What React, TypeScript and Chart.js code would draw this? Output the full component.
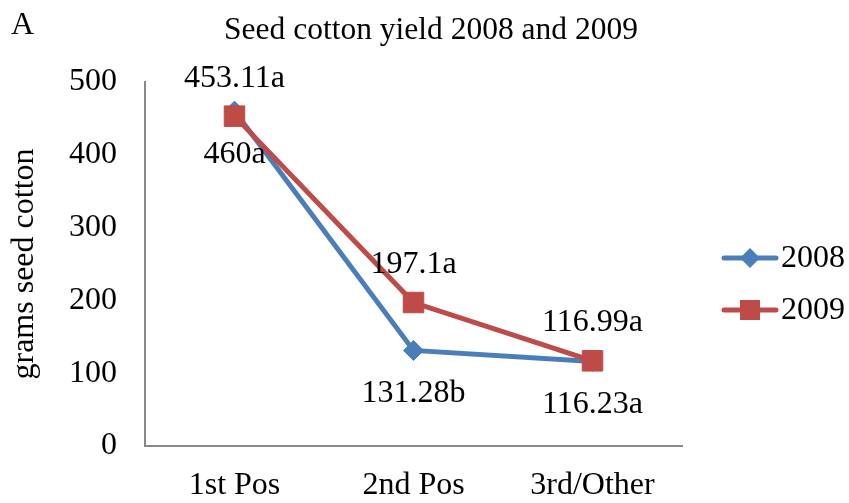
import React, { useEffect, useRef } from "react";
import { Chart, registerables } from "chart.js";

Chart.register(...registerables);

const categories = ["1st Pos", "2nd Pos", "3rd/Other"];
const seriesNames = ["2008", "2009"];
const values2008 = [460, 131.28, 116.23];
const values2009 = [453.11, 197.1, 116.99];
const labels2008 = ["460a", "131.28b", "116.23a"];
const labels2009 = ["453.11a", "197.1a", "116.99a"];
const yTicks = [0, 100, 200, 300, 400, 500];

const FONT = "'Liberation Serif', 'Times New Roman', serif";
const BLUE = "#4A7EBB";
const RED = "#BE4B48";
const FS = 32;

const extrasPlugin = {
  id: "extras",
  afterDatasetsDraw(chart: any) {
    const ctx = chart.ctx;
    ctx.save();
    ctx.fillStyle = "#000";
    ctx.font = `${FS}px ${FONT}`;
    ctx.textAlign = "center";
    ctx.textBaseline = "middle";
    const m0 = chart.getDatasetMeta(0);
    const m1 = chart.getDatasetMeta(1);
    m0.data.forEach((p: any, i: number) => {
      ctx.fillText(labels2008[i], p.x, p.y + 43);
    });
    m1.data.forEach((p: any, i: number) => {
      ctx.fillText(labels2009[i], p.x, p.y - 38);
    });
    ctx.restore();
  },
  afterDraw(chart: any) {
    const ctx = chart.ctx;
    ctx.save();
    ctx.fillStyle = "#000";
    ctx.font = `${FS}px ${FONT}`;
    ctx.textBaseline = "alphabetic";
    ctx.textAlign = "left";
    ctx.fillText("A", 11, 34);
    ctx.textAlign = "center";
    ctx.font = `31.5px ${FONT}`;
    ctx.fillText("Seed cotton yield 2008 and 2009", 431, 39);

    // legend
    const items = [
      { y: 258, color: BLUE, style: "diamond" },
      { y: 310, color: RED, style: "square" },
    ];
    items.forEach((it, i) => {
      ctx.strokeStyle = it.color;
      ctx.fillStyle = it.color;
      ctx.lineWidth = 5;
      ctx.lineCap = "round";
      ctx.beginPath();
      ctx.moveTo(724, it.y);
      ctx.lineTo(776, it.y);
      ctx.stroke();
      ctx.beginPath();
      if (it.style === "diamond") {
        ctx.moveTo(750 - 10, it.y);
        ctx.lineTo(750, it.y - 10);
        ctx.lineTo(750 + 10, it.y);
        ctx.lineTo(750, it.y + 10);
        ctx.closePath();
      } else {
        ctx.rect(740, it.y - 10, 20, 20);
      }
      ctx.fill();
      ctx.fillStyle = "#000";
      ctx.font = `${FS}px ${FONT}`;
      ctx.textAlign = "left";
      ctx.textBaseline = "middle";
      ctx.fillText(seriesNames[i], 781, it.y + 1);
    });
    ctx.restore();
  },
};

export default function App() {
  const ref = useRef<HTMLCanvasElement | null>(null);
  useEffect(() => {
    document.body.style.margin = "0";
    if (!ref.current) return;
    const chart = new Chart(ref.current, {
      type: "line",
      data: {
        labels: categories,
        datasets: [
          {
            label: seriesNames[0],
            data: values2008,
            borderColor: BLUE,
            backgroundColor: BLUE,
            borderWidth: 5,
            pointStyle: "rectRot",
            pointRadius: 10,
            pointBorderWidth: 1,
            pointBackgroundColor: BLUE,
            pointBorderColor: BLUE,
            tension: 0,
            order: 1,
          },
          {
            label: seriesNames[1],
            data: values2009,
            borderColor: RED,
            backgroundColor: RED,
            borderWidth: 5,
            pointStyle: "rect",
            pointRadius: 14.5,
            pointBorderWidth: 1,
            pointBackgroundColor: RED,
            pointBorderColor: RED,
            tension: 0,
            order: 0,
          },
        ],
      },
      options: {
        animation: false,
        responsive: false,
        maintainAspectRatio: false,
        layout: { padding: { left: 0, right: 167, top: 82, bottom: 0 } },
        plugins: {
          legend: { display: false },
          tooltip: { enabled: false },
          title: { display: false },
        },
        scales: {
          x: {
            offset: true,
            grid: { display: false, drawTicks: false },
            border: { display: true, color: "#898989", width: 2 },
            ticks: {
              color: "#000",
              font: { family: FONT, size: FS },
              padding: 20,
              maxRotation: 0,
            },
            afterFit: (scale: any) => {
              scale.height = 57;
            },
          },
          y: {
            min: 0,
            max: 500,
            afterBuildTicks: (scale: any) => {
              scale.ticks = yTicks.map((v) => ({ value: v }));
            },
            grid: { display: false, drawTicks: false },
            border: { display: true, color: "#898989", width: 2 },
            ticks: {
              color: "#000",
              font: { family: FONT, size: FS },
              padding: 28,
            },
            title: {
              display: true,
              text: "grams seed cotton",
              color: "#000",
              font: { family: FONT, size: FS },
              padding: { top: 5, bottom: 0 },
            },
            afterFit: (scale: any) => {
              scale.width = 145;
            },
          },
        },
      },
      plugins: [extrasPlugin],
    });
    return () => chart.destroy();
  }, []);
  return (
    <div style={{ position: "absolute", left: 0, top: 0, width: 849, height: 503 }}>
      <canvas ref={ref} width={849} height={503} style={{ width: 849, height: 503 }} />
    </div>
  );
}
